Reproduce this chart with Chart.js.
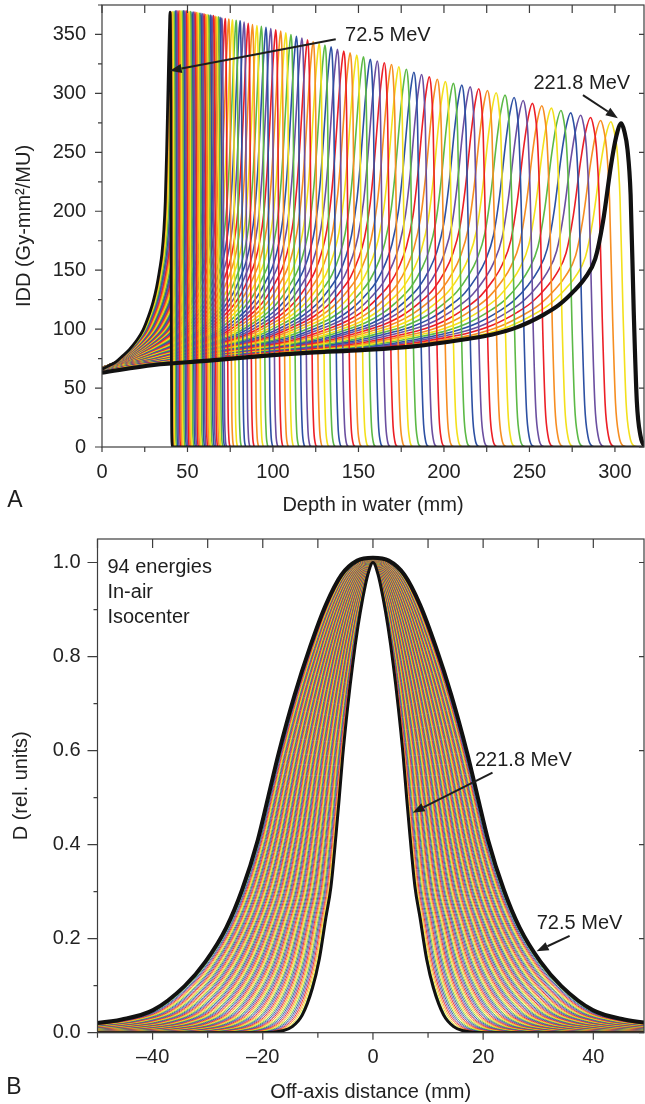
<!DOCTYPE html>
<html>
<head>
<meta charset="utf-8">
<script src="https://cdn.jsdelivr.net/npm/chart.js@4.4.0/dist/chart.umd.min.js"></script>
<style>
  html, body { margin: 0; padding: 0; background: #fff; overflow: hidden; }
  .panel { position: absolute; left: 0; }
</style>
</head>
<body>
<div class="panel" style="top:0"><canvas id="iddChart" width="645" height="520"></canvas></div>
<div class="panel" style="top:520px"><canvas id="profileChart" width="645" height="584"></canvas></div>
<script>
// Bragg peak depth (mm) and peak IDD for the 94 energies, 72.5 MeV first, 221.8 MeV last
const peakDepth = [
  39.8, 40.55, 41.3, 42.05, 42.8, 43.6, 44.4, 45.2, 46.0, 46.8,
  47.6, 48.4, 49.2, 50.05, 50.9, 51.75, 52.6, 53.45, 54.3, 55.15,
  56.0, 56.9, 57.8, 58.7, 59.6, 60.5, 61.4, 62.3, 63.25, 64.2,
  65.15, 66.1, 67.05, 68.0, 69.0, 70.0,
  72.0, 74.1, 76.2, 78.4, 80.7, 83.1, 85.5, 88.0, 90.6, 93.2,
  95.9, 98.7, 101.6, 104.5, 107.5, 110.5, 113.7, 116.9, 120.2, 123.5,
  127.0, 130.4, 134.0, 137.7, 141.4, 145.1, 149.0, 152.9, 156.9, 161.0,
  165.1, 169.3, 173.6, 178.0, 182.4, 186.9, 191.4, 196.1, 200.8, 205.5,
  210.4, 215.3, 220.3, 225.4, 230.5, 235.7, 241.0, 246.3, 251.7, 257.2,
  262.8, 268.4, 274.1, 279.9, 285.7, 291.6, 297.6, 303.7
];
const peakIdd = [
  369, 369, 369.5, 369.5, 370, 370, 370, 370, 370, 370,
  370, 370, 370, 369.5, 369.5, 369.5, 369, 369, 369, 368.5,
  368.5, 368, 368, 367.5, 367.5, 367, 367, 366.5, 366.5, 366,
  366, 365.5, 365, 365, 364.5, 364,
  363.5, 363, 362.5, 362, 361.5, 360.5, 359.5, 358.5, 357.5, 357,
  356, 355, 354, 353, 351.5, 350, 348.5, 347, 345.5, 344,
  342.5, 341, 339.5, 337.5, 336, 334.5, 332.5, 331, 329, 327.5,
  326, 324.5, 322.5, 320.5, 318, 316, 314, 312, 310, 308.5,
  307, 305.5, 304, 302.5, 300.5, 298.5, 296.5, 294, 291.5, 289.5,
  287.5, 285.5, 283.5, 281.5, 279.5, 277, 276, 274.5
];

// depth / peak depth, and IDD / peak IDD of the 72.5 MeV and 221.8 MeV curves
const depthFrac = [0, 0.1, 0.2, 0.3, 0.4, 0.5, 0.6, 0.7, 0.75, 0.8, 0.85, 0.88, 0.91, 0.93,
  0.95, 0.965, 0.98, 0.99, 1.0, 1.006, 1.012, 1.018, 1.024, 1.03, 1.037, 1.045, 1.055];
const iddLow = [0.179, 0.187, 0.195, 0.209, 0.224, 0.243, 0.268, 0.308, 0.333, 0.366, 0.411, 0.444, 0.501, 0.565,
  0.680, 0.786, 0.895, 0.955, 1.0, 0.96, 0.78, 0.28, 0.045, 0.008, 0, 0, 0];
const iddHigh = [0.2295, 0.2535, 0.2662, 0.2800, 0.2915, 0.2994, 0.3110, 0.3330, 0.347, 0.3706, 0.4086, 0.439, 0.484, 0.522,
  0.582, 0.698, 0.868, 0.957, 1.0, 0.975, 0.92, 0.78, 0.42, 0.14, 0.035, 0.004, 0];

// in-air lateral profiles: half width at 50 % (mm) per energy, same order as above
const halfWidth = [
  19.00, 18.86, 18.72, 18.58, 18.45, 18.31, 18.17, 18.03, 17.89, 17.75,
  17.61, 17.47, 17.34, 17.20, 17.06, 16.92, 16.78, 16.64, 16.50, 16.36,
  16.23, 16.09, 15.95, 15.81, 15.67, 15.53, 15.39, 15.25, 15.12, 14.98,
  14.84, 14.70, 14.56, 14.42, 14.28, 14.14, 14.01, 13.87, 13.73, 13.59,
  13.45, 13.31, 13.17, 13.03, 12.90, 12.76, 12.62, 12.48, 12.34, 12.20,
  12.06, 11.92, 11.78, 11.65, 11.51, 11.37, 11.23, 11.09, 10.95, 10.81,
  10.67, 10.54, 10.40, 10.26, 10.12, 9.98, 9.84, 9.70, 9.56, 9.43,
  9.29, 9.15, 9.01, 8.87, 8.73, 8.59, 8.45, 8.32, 8.18, 8.04,
  7.90, 7.76, 7.62, 7.48, 7.34, 7.21, 7.07, 6.93, 6.79, 6.65,
  6.51, 6.37, 6.23, 6.10
];
// off-axis distance / half width, and relative dose of the widest and narrowest profile
const offsetFrac = [0, 0.15, 0.3, 0.45, 0.6, 0.75, 0.9, 1.0, 1.1, 1.25, 1.4, 1.6, 1.8, 2.1, 2.4, 2.7, 3.0, 3.5, 4.5, 6.0, 8.5];
const profileLow = [1.010, 1.004, 0.974, 0.910, 0.821, 0.717, 0.595, 0.502, 0.410, 0.304, 0.224, 0.151, 0.099,
  0.048, 0.028, 0.019, 0.013, 0.008, 0.004, 0.002, 0.001];
const profileHigh = [1.000, 0.975, 0.925, 0.862, 0.785, 0.694, 0.588, 0.502, 0.420, 0.310, 0.245, 0.155, 0.095,
  0.038, 0.013, 0.004, 0.001, 0, 0, 0, 0];

const depthTicks = [0, 50, 100, 150, 200, 250, 300];
const iddTicks = [0, 50, 100, 150, 200, 250, 300, 350];
const offsetTicks = [-40, -20, 0, 20, 40];
const doseTicks = [0, 0.2, 0.4, 0.6, 0.8, 1.0];
const energyLabels = ['72.5 MeV', '221.8 MeV'];
const rainbow = ['#ec1f26', '#f68e22', '#f3e01c', '#5cb946', '#2d50a3', '#6b4fa0'];

const FONT = '"Liberation Sans", Arial, Helvetica, sans-serif';
Chart.defaults.font.family = FONT;
Chart.defaults.font.size = 20;
Chart.defaults.color = '#222';

const depthMax = 317;
const last = peakDepth.length - 1;

function iddCurve(i) {
  const w = (peakDepth[i] - peakDepth[0]) / (peakDepth[last] - peakDepth[0]);
  const pts = depthFrac.map((u, k) => ({
    x: u * peakDepth[i],
    y: peakIdd[i] * ((1 - w) * iddLow[k] + w * iddHigh[k])
  }));
  if (pts[pts.length - 1].x < depthMax) pts.push({ x: depthMax, y: 0 });
  return pts;
}

function profileCurve(i) {
  const w = (halfWidth[0] - halfWidth[i]) / (halfWidth[0] - halfWidth[last]);
  const side = offsetFrac.map((t, k) => ({
    x: t * halfWidth[i],
    y: (1 - w) * profileLow[k] + w * profileHigh[k]
  }));
  const left = side.slice(1).reverse().map(p => ({ x: -p.x, y: p.y }));
  return left.concat(side);
}

// list of tick positions with a flag for the labelled ones
function steps(scale, major, minor) {
  const out = [];
  const k0 = Math.ceil(scale.min / minor - 1e-6), k1 = Math.floor(scale.max / minor + 1e-6);
  for (let k = k0; k <= k1; k++) {
    const v = k * minor, r = v / major;
    out.push([v, Math.abs(r - Math.round(r)) < 1e-6]);
  }
  return out;
}

// box round the plot, ticks out on bottom/left, in on top/right
function framePlugin(spec) {
  return {
    id: 'frame',
    afterDatasetsDraw(chart) {
      const { ctx, chartArea: a, scales: { x, y } } = chart;
      ctx.save();
      ctx.strokeStyle = '#3d3d3d';
      ctx.lineWidth = 1.2;
      ctx.strokeRect(a.left, a.top, a.right - a.left, a.bottom - a.top);
      ctx.beginPath();
      for (const [v, major] of steps(x, spec.xMajor, spec.xMinor)) {
        const px = x.getPixelForValue(v);
        const b = spec.bottom[major ? 0 : 1], t = spec.top[major ? 0 : 1];
        if (b) { ctx.moveTo(px, a.bottom); ctx.lineTo(px, a.bottom + b); }
        if (t) { ctx.moveTo(px, a.top); ctx.lineTo(px, a.top + t); }
      }
      for (const [v, major] of steps(y, spec.yMajor, spec.yMinor)) {
        const py = y.getPixelForValue(v);
        const l = spec.left[major ? 0 : 1], r = spec.right[major ? 0 : 1];
        if (l) { ctx.moveTo(a.left, py); ctx.lineTo(a.left - l, py); }
        if (r) { ctx.moveTo(a.right, py); ctx.lineTo(a.right - r, py); }
      }
      ctx.stroke();
      ctx.restore();
    }
  };
}

function arrow(ctx, [x0, y0], [x1, y1]) {
  const ang = Math.atan2(y1 - y0, x1 - x0), len = 12, half = 4.5;
  const bx = x1 - len * Math.cos(ang), by = y1 - len * Math.sin(ang);
  ctx.lineWidth = 2;
  ctx.beginPath(); ctx.moveTo(x0, y0); ctx.lineTo(bx, by); ctx.stroke();
  ctx.beginPath();
  ctx.moveTo(x1, y1);
  ctx.lineTo(bx + half * Math.sin(ang), by - half * Math.cos(ang));
  ctx.lineTo(bx - half * Math.sin(ang), by + half * Math.cos(ang));
  ctx.closePath();
  ctx.fill();
}

// energy labels with arrows (data coordinates) and the panel letter
function notesPlugin(items, panel) {
  return {
    id: 'notes',
    afterDatasetsDraw(chart) {
      const { ctx, scales: { x, y } } = chart;
      const at = p => [x.getPixelForValue(p[0]), y.getPixelForValue(p[1])];
      ctx.save();
      ctx.fillStyle = '#1e1e1e';
      ctx.strokeStyle = '#1e1e1e';
      ctx.textBaseline = 'middle';
      ctx.font = '20px ' + FONT;
      for (const n of items) {
        const [tx, ty] = at(n.at);
        ctx.textAlign = n.align || 'center';
        ctx.fillText(n.text, tx, ty);
        if (n.from) arrow(ctx, at(n.from), at(n.to));
      }
      ctx.font = '23px ' + FONT;
      ctx.textAlign = 'center';
      ctx.fillText(panel.text, panel.x, panel.y);
      ctx.restore();
    }
  };
}

// fixed axis box sizes so the plot area lands where it should; no label overhang padding
function fixWidth(w) {
  return s => { s.width = w; s.paddingTop = 0; s.paddingBottom = 0; };
}
function fixHeight(h) {
  return s => { s.height = h; s.paddingLeft = 0; s.paddingRight = 0; };
}

function axis(extra) {
  return Object.assign({
    type: 'linear',
    grid: { display: false, drawTicks: false },
    border: { display: false }
  }, extra);
}

const lineDefaults = {
  responsive: false,
  animation: false,
  events: [],
  parsing: false,
  elements: { point: { radius: 0 }, line: { cubicInterpolationMode: 'monotone', fill: false } },
};

// ---- A: integral depth doses ----
const iddSets = peakDepth.map((r, i) => ({
  data: iddCurve(i),
  borderColor: i === 0 || i === last ? '#111' : rainbow[i % 6],
  borderWidth: i === last ? 4.2 : i === 0 ? 2.8 : 1.6,
  order: i === last ? 0 : i === 0 ? 1 : 2
}));

new Chart(document.getElementById('iddChart'), {
  type: 'line',
  data: { datasets: iddSets },
  options: Object.assign({}, lineDefaults, {
    layout: { padding: { top: 5, right: 1, left: 0, bottom: 0 } },
    plugins: { legend: { display: false }, tooltip: { enabled: false } },
    scales: {
      x: axis({
        min: 0, max: depthMax,
        afterBuildTicks: s => { s.ticks = depthTicks.map(value => ({ value })); },
        afterFit: fixHeight(73),
        ticks: { autoSkip: false, maxRotation: 0, padding: 13, color: '#222' },
        title: { display: true, text: 'Depth in water (mm)', color: '#222', padding: { top: 0, bottom: 3 } }
      }),
      y: axis({
        min: 0, max: 375,
        afterBuildTicks: s => { s.ticks = iddTicks.map(value => ({ value })); },
        afterFit: fixWidth(102),
        ticks: { autoSkip: false, padding: 16, color: '#222' },
        title: { display: true, text: 'IDD (Gy-mm²/MU)', color: '#222', padding: { top: 12, bottom: 0 } }
      })
    }
  }),
  plugins: [
    framePlugin({ xMajor: 50, xMinor: 25, yMajor: 50, yMinor: 25,
      bottom: [5, 5], top: [8, 8], left: [7, 4], right: [5, 0] }),
    notesPlugin([
      { text: energyLabels[0], at: [167.2, 349.4], from: [136.7, 346], to: [39.6, 319.2] },
      { text: energyLabels[1], at: [280.6, 308.7], from: [281.3, 298.6], to: [301.7, 279] }
    ], { text: 'A', x: 15, y: 501 })
  ]
});

// ---- B: lateral profiles in air at isocenter ----
const profileSets = halfWidth.map((h, i) => ({
  data: profileCurve(i),
  borderColor: i === 0 || i === last ? '#111' : rainbow[(i + 1) % 6],
  borderWidth: i === 0 ? 4 : i === last ? 3 : 0.9,
  order: i === 0 ? 0 : i === last ? 1 : 2
}));

new Chart(document.getElementById('profileChart'), {
  type: 'line',
  data: { datasets: profileSets },
  options: Object.assign({}, lineDefaults, {
    layout: { padding: { top: 19, right: 1, left: 0, bottom: 0 } },
    plugins: { legend: { display: false }, tooltip: { enabled: false } },
    scales: {
      x: axis({
        min: -50, max: 49.2,
        afterBuildTicks: s => { s.ticks = offsetTicks.map(value => ({ value })); },
        afterFit: fixHeight(71.3),
        ticks: {
          autoSkip: false, maxRotation: 0, padding: 13, color: '#222',
          callback: v => (v < 0 ? '\u2013' + Math.abs(v) : String(v))
        },
        title: { display: true, text: 'Off-axis distance (mm)', color: '#222', padding: { top: 0, bottom: 0 } }
      }),
      y: axis({
        min: 0, max: 1.05,
        afterBuildTicks: s => { s.ticks = doseTicks.map(value => ({ value })); },
        afterFit: fixWidth(97.5),
        ticks: { autoSkip: false, padding: 17, color: '#222', callback: v => v.toFixed(1) },
        title: { display: true, text: 'D (rel. units)', color: '#222', padding: { top: 9, bottom: 0 } }
      })
    }
  }),
  plugins: [
    framePlugin({ xMajor: 20, xMinor: 10, yMajor: 0.2, yMinor: 0.1,
      bottom: [7, 5], top: [9, 9], left: [10, 4], right: [5, 0] }),
    notesPlugin([
      { text: '94 energies', at: [-48.2, 0.990], align: 'left' },
      { text: 'In-air', at: [-48.2, 0.937], align: 'left' },
      { text: 'Isocenter', at: [-48.2, 0.884], align: 'left' },
      { text: energyLabels[1], at: [27.3, 0.579], from: [21.7, 0.553], to: [7.2, 0.468] },
      { text: energyLabels[0], at: [37.5, 0.233], from: [35.7, 0.206], to: [29.7, 0.173] }
    ], { text: 'B', x: 14, y: 568 })
  ]
});
</script>
</body>
</html>
